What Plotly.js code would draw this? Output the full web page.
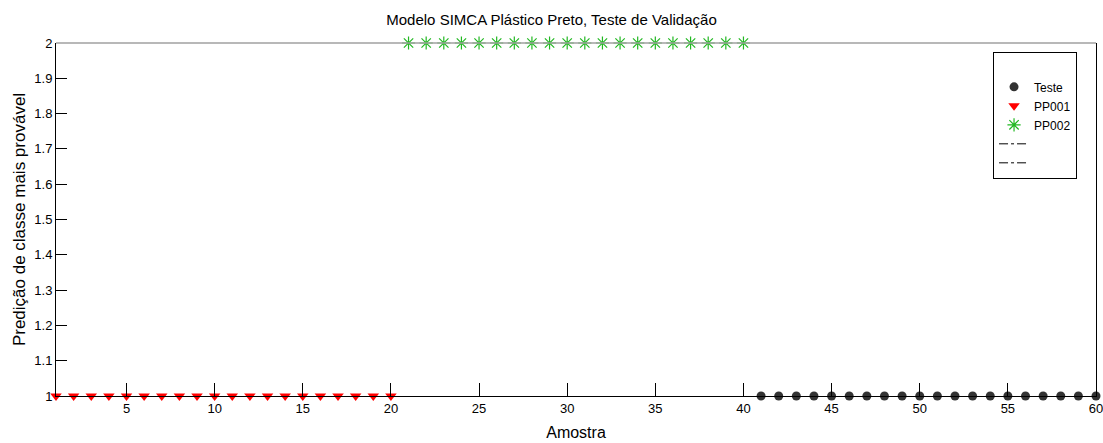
<!DOCTYPE html>
<html><head><meta charset="utf-8">
<script src="https://cdn.plot.ly/plotly-3.0.1.min.js"></script>
<style>html,body{margin:0;padding:0;background:#fff}</style>
</head><body>
<div id="chart" style="width:1103px;height:443px"></div>
<script>
var ppx001 = [1,2,3,4,5,6,7,8,9,10,11,12,13,14,15,16,17,18,19,20];
var ppy001 = [1,1,1,1,1,1,1,1,1,1,1,1,1,1,1,1,1,1,1,1];
var ppx002 = [21,22,23,24,25,26,27,28,29,30,31,32,33,34,35,36,37,38,39,40];
var ppy002 = [2,2,2,2,2,2,2,2,2,2,2,2,2,2,2,2,2,2,2,2];
var testeX = [41,42,43,44,45,46,47,48,49,50,51,52,53,54,55,56,57,58,59,60];
var testeY = [1,1,1,1,1,1,1,1,1,1,1,1,1,1,1,1,1,1,1,1];
var xTicks = [5,10,15,20,25,30,35,40,45,50,55,60];
var yTicks = [1,1.1,1.2,1.3,1.4,1.5,1.6,1.7,1.8,1.9,2];
var yTickText = ['1','1.1','1.2','1.3','1.4','1.5','1.6','1.7','1.8','1.9','2'];

var traces = [
  {x: testeX, y: testeY, name: 'Teste', mode: 'markers', type: 'scatter', cliponaxis: false,
   marker: {symbol: 'circle', color: '#333333', size: 9}},
  {x: ppx001, y: ppy001, name: 'PP001', mode: 'markers', type: 'scatter', cliponaxis: false,
   marker: {symbol: 'triangle-down', color: '#ff0000', size: 10}},
  {x: ppx002, y: ppy002, name: 'PP002', mode: 'markers', type: 'scatter', cliponaxis: false,
   marker: {symbol: 'asterisk-open', color: '#22b822', size: 11, line: {color: '#22b822', width: 1.2}}},
  {x: [null], y: [null], name: ' ', mode: 'lines', type: 'scatter',
   line: {color: '#000', width: 1, dash: 'dashdot'}},
  {x: [null], y: [null], name: '  ', mode: 'lines', type: 'scatter',
   line: {color: '#000', width: 1, dash: 'dashdot'}}
];

var layout = {
  width: 1103, height: 443,
  margin: {l: 56, r: 7, t: 43, b: 47},
  paper_bgcolor: '#fff', plot_bgcolor: '#fff',
  font: {family: 'Liberation Sans, Arial, sans-serif', color: '#000', size: 12},
  title: {text: 'Modelo SIMCA Plástico Preto, Teste de Validação', font: {size: 15, color: '#000'},
          x: 0.5, xanchor: 'center', y: 0.955, yanchor: 'middle'},
  showlegend: true,
  legend: {x: 0.901, y: 0.975, xanchor: 'left', yanchor: 'top', bgcolor: '#fff',
           bordercolor: '#000', borderwidth: 1, font: {size: 12}, tracegroupgap: 0,
           itemwidth: 30, title: {text: ' ', font: {size: 15}}},
  xaxis: {range: [1, 60], tickmode: 'array', tickvals: xTicks, ticks: 'inside', ticklen: 13,
          tickcolor: '#000', showgrid: false, zeroline: false, showline: true, linecolor: '#000',
          linewidth: 1, mirror: false, tickfont: {size: 13}, ticklabeloverflow: 'allow',
          title: {text: 'Amostra', font: {size: 16}, standoff: 12}},
  yaxis: {range: [1, 2], tickmode: 'array', tickvals: yTicks, ticktext: yTickText, ticks: 'inside', ticklen: 11,
          tickcolor: '#000', showgrid: false, zeroline: false, showline: true, linecolor: '#000',
          linewidth: 1, mirror: true, tickfont: {size: 13},
          title: {text: 'Predição de classe mais provável', font: {size: 17}, standoff: 4}},
  shapes: [
    {type: 'line', xref: 'paper', yref: 'paper', x0: 0, x1: 1, y0: 1, y1: 1,
     line: {color: '#a0a0a0', width: 1.5}}
  ]
};
Plotly.newPlot('chart', traces, layout, {displayModeBar: false, staticPlot: true});
</script>
</body></html>
